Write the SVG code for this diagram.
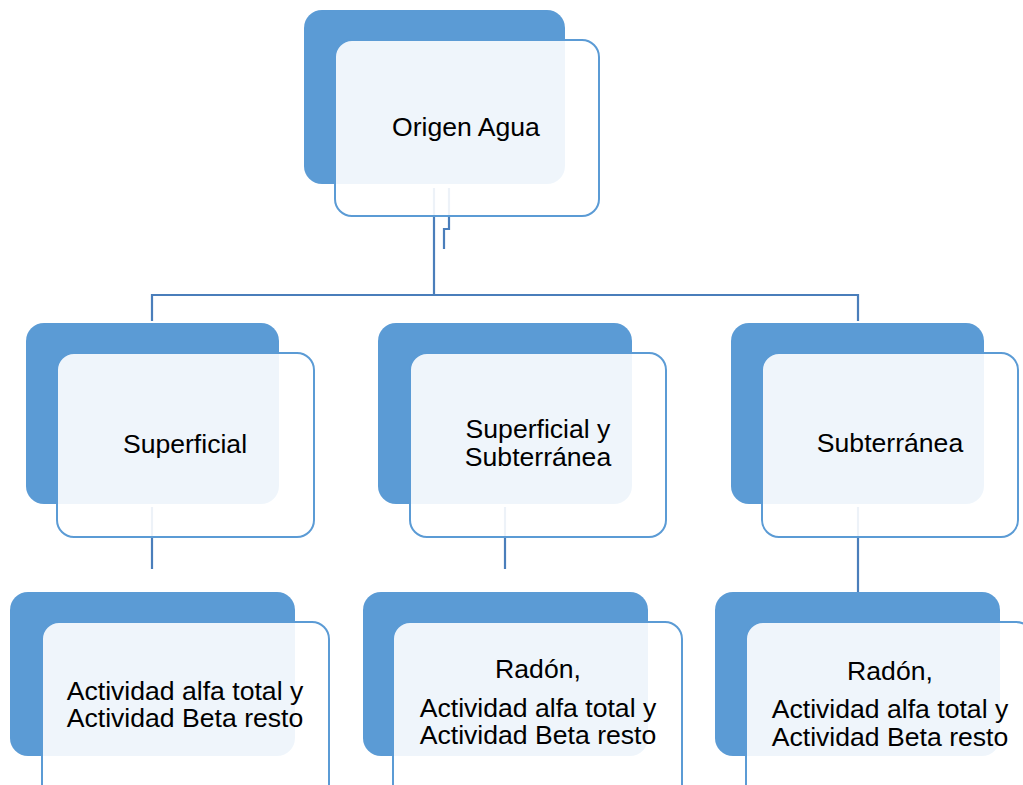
<svg xmlns="http://www.w3.org/2000/svg" width="1023" height="785" viewBox="0 0 1023 785">
<style>
.back{fill:#5B9BD5;}
.front{fill:#FFFFFF;fill-opacity:0.9;stroke:#5B9BD5;stroke-width:2;}
.conn{fill:none;stroke:#4A7EBB;stroke-width:2.2;}
text{font-family:"Liberation Sans",Arial,sans-serif;font-size:26.6px;fill:#000;text-anchor:middle;}
</style>
<rect width="1023" height="785" fill="#FFFFFF"/>
<g id="connectors">
<path class="conn" d="M434,188 V295 M152,321 V295 H858 V321"/>
<path class="conn" d="M449,188 V229 H444 V249"/>
<path class="conn" d="M152,507 V569"/>
<path class="conn" d="M505,507 V569"/>
<path class="conn" d="M858,507 V592"/>
</g>
<g id="n-origen">
<rect class="back" x="304" y="10" width="261" height="174" rx="18"/>
<rect class="front" x="335" y="40" width="264" height="176" rx="17"/>
<text x="466" y="136">Origen Agua</text>
</g>
<g id="n-superficial">
<rect class="back" x="26" y="323" width="253" height="181" rx="18"/>
<rect class="front" x="57" y="353" width="257" height="184" rx="17"/>
<text x="185" y="453">Superficial</text>
</g>
<g id="n-superficial-subterranea">
<rect class="back" x="378" y="323" width="254" height="181" rx="18"/>
<rect class="front" x="410" y="353" width="256" height="184" rx="17"/>
<text x="538" y="438">Superficial y</text>
<text x="538" y="466">Subterránea</text>
</g>
<g id="n-subterranea">
<rect class="back" x="731" y="323" width="253" height="181" rx="18"/>
<rect class="front" x="762" y="353" width="256" height="184" rx="17"/>
<text x="890" y="452">Subterránea</text>
</g>
<g id="n-res-superficial">
<rect class="back" x="10" y="592" width="285" height="164" rx="18"/>
<rect class="front" x="42" y="622" width="287" height="180" rx="17"/>
<text x="185" y="700">Actividad alfa total y</text>
<text x="185" y="727">Actividad Beta resto</text>
</g>
<g id="n-res-mixta">
<rect class="back" x="363" y="592" width="285" height="164" rx="18"/>
<rect class="front" x="393" y="622" width="289" height="180" rx="17"/>
<text x="538" y="678">Radón,</text>
<text x="538" y="717">Actividad alfa total y</text>
<text x="538" y="744">Actividad Beta resto</text>
</g>
<g id="n-res-subterranea">
<rect class="back" x="715" y="592" width="285" height="164" rx="18"/>
<rect class="front" x="746" y="622" width="287" height="180" rx="17"/>
<text x="890" y="680">Radón,</text>
<text x="890" y="718">Actividad alfa total y</text>
<text x="890" y="746">Actividad Beta resto</text>
</g>
</svg>
